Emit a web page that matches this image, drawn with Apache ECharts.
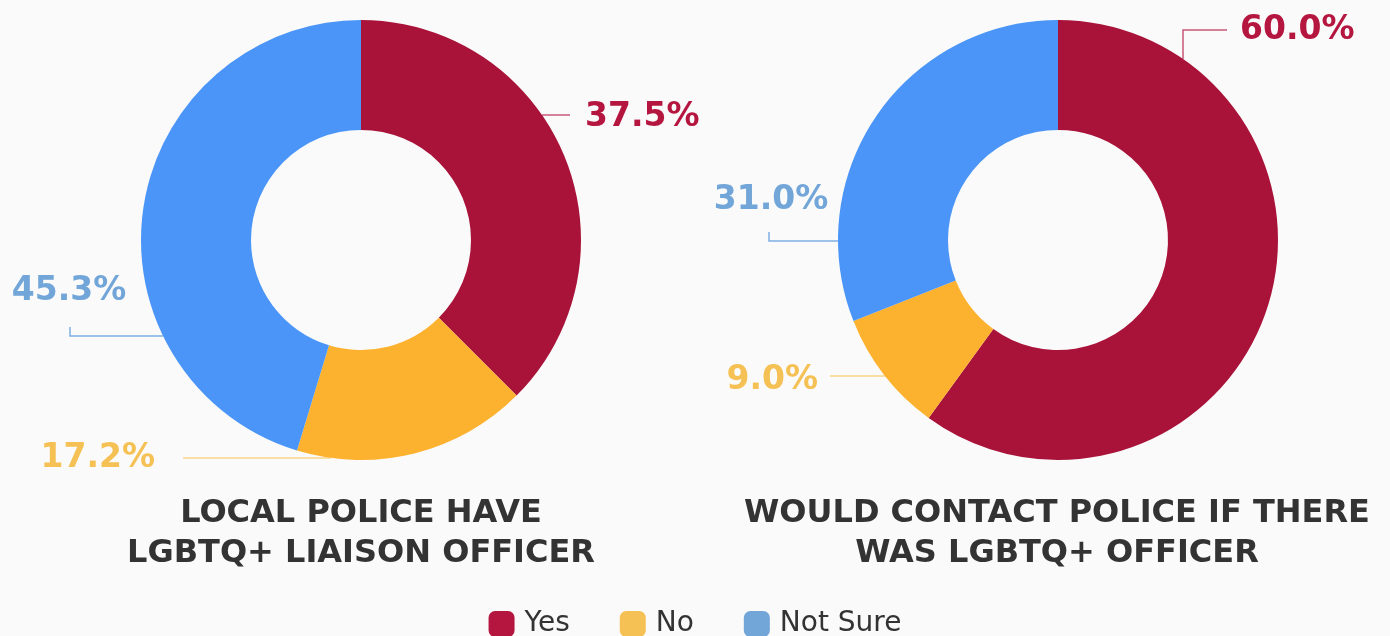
<!DOCTYPE html>
<html>
<head>
<meta charset="utf-8">
<script src="https://cdn.jsdelivr.net/npm/echarts@6/dist/echarts.min.js"></script>
<style>
  html, body { margin: 0; padding: 0; background: #fafafa; }
  #chart { width: 1390px; height: 636px; }
</style>
</head>
<body>
<div id="chart"></div>
<script>
// 数据
const categories = ['Yes', 'No', 'Not Sure']
const liaisonValues = [37.5, 17.2, 45.3]
const contactValues = [60.0, 9.0, 31.0]
const chartTitles = ['LOCAL POLICE HAVE\nLGBTQ+ LIAISON OFFICER', 'WOULD CONTACT POLICE IF THERE\nWAS LGBTQ+ OFFICER']

const sliceColors = ['#a91239', '#fdb22f', '#4a95f7']
const labelColors = ['#b5163f', '#f5c154', '#72a5d8']
const lineColors = ['#c9587a', '#f8d487', '#7fb0e4']

// 标签位置 (每个扇区: 标签 x, y, 对齐, 引导线折点)
const liaisonLabels = [
  { x: 585, y: 117, align: 'left', line: [[542, 115], [570, 115], [570, 115]] },
  { x: 155, y: 458, align: 'right', line: [[331, 458], [183, 458], [183, 458]] },
  { x: 69, y: 291, align: 'center', line: [[163, 336], [70, 336], [70, 327]] }
]
const contactLabels = [
  { x: 1240, y: 30, align: 'left', line: [[1183, 59], [1183, 30], [1227, 30]] },
  { x: 818, y: 380, align: 'right', line: [[885, 376], [830, 376], [830, 376]] },
  { x: 771, y: 200, align: 'center', line: [[838, 241], [769, 241], [769, 232]] }
]

function buildSeries (center, values, labels) {
  return {
    type: 'pie',
    center: center,
    radius: [110, 220],
    startAngle: 90,
    clockwise: true,
    silent: true,
    avoidLabelOverlap: false,
    data: categories.map((name, i) => ({
      name: name,
      value: values[i],
      itemStyle: { color: sliceColors[i] },
      label: { color: labelColors[i] },
      labelLine: { lineStyle: { color: lineColors[i] } }
    })),
    label: {
      show: true,
      position: 'outside',
      formatter: p => p.value.toFixed(1) + '%',
      fontFamily: 'DejaVu Sans',
      fontWeight: 'bold',
      fontSize: 33
    },
    labelLine: {
      show: true,
      lineStyle: { width: 1.5 }
    },
    labelLayout: params => {
      const l = labels[params.dataIndex]
      return {
        x: l.x,
        y: l.y,
        align: l.align,
        verticalAlign: 'middle',
        labelLinePoints: l.line
      }
    }
  }
}

const chart = echarts.init(document.getElementById('chart'))
chart.setOption({
  backgroundColor: '#fafafa',
  animation: false,
  title: chartTitles.map((t, i) => ({
    text: t,
    left: i === 0 ? 356 : 1052,
    top: 489,
    textAlign: 'center',
    textStyle: {
      fontFamily: 'DejaVu Sans',
      fontWeight: 'bold',
      fontSize: 32,
      lineHeight: 40,
      color: '#333333'
    }
  })),
  legend: {
    top: 605,
    left: 'center',
    icon: 'roundRect',
    itemWidth: 26,
    itemHeight: 26,
    itemGap: 50,
    textStyle: { fontFamily: 'DejaVu Sans', fontSize: 28, color: '#333333', padding: [0, 0, 0, 5] },
    data: categories.map((name, i) => ({ name: name, itemStyle: { color: labelColors[i] } }))
  },
  series: [
    buildSeries([361, 240], liaisonValues, liaisonLabels),
    buildSeries([1058, 240], contactValues, contactLabels)
  ]
})
</script>
</body>
</html>
